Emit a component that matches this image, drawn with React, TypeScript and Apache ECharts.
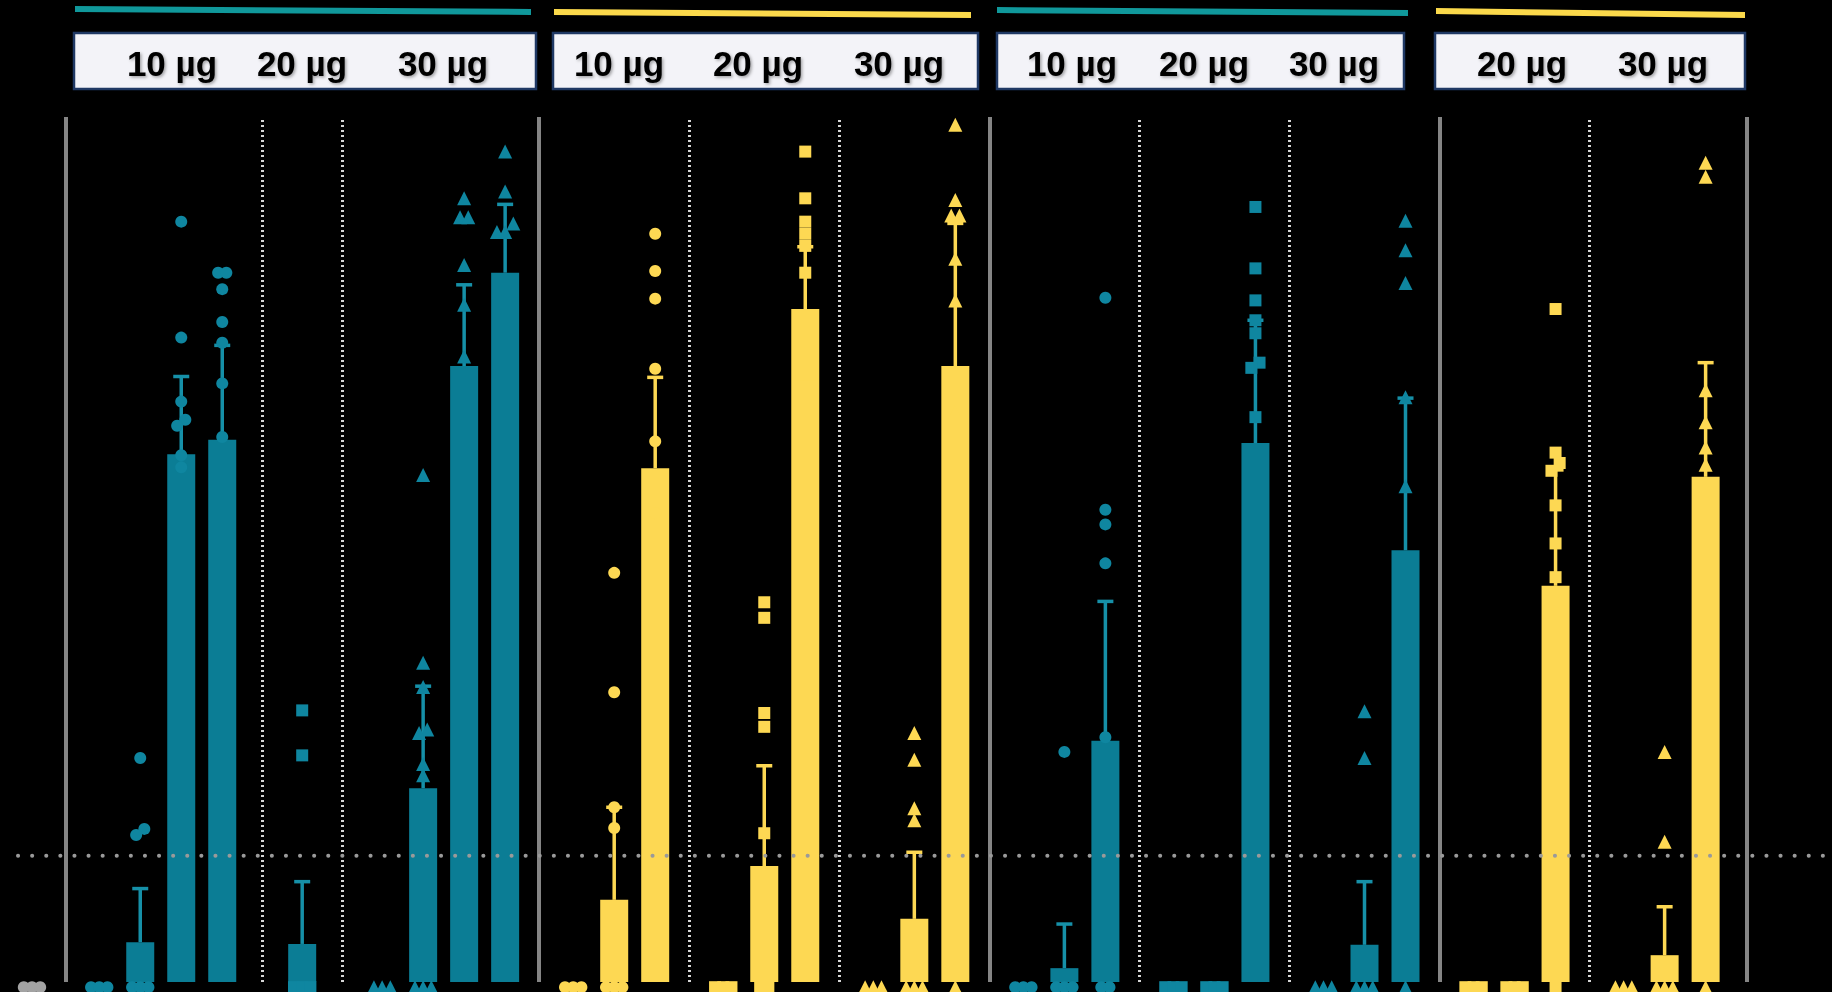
import React, { useEffect, useRef } from "react";
import * as echarts from "echarts";

// ---------------- data (axis units 0..100) ----------------
const lodValue = 14.6;
const controlPoints = [0, 0, 0];

const g1Doses = ["10 µg", "20 µg", "30 µg"];
const g1Means = [[0, 4.6, 61.0, 62.7], [4.4], [0, 22.4, 71.2, 82.0]];
const g1ErrTop = [[null, 10.8, 70.0, 73.6], [11.6], [null, 34.2, 80.6, 89.9]];
const g1Points = [
  [[0, 0, 0], [25.9, 17.7, 17.0, 0, 0, 0], [87.9, 74.5, 67.1, 65.0, 64.3, 60.9, 59.5], [82.0, 82.0, 80.1, 76.3, 73.9, 69.2, 63.0]],
  [[31.4, 26.2, 0, 0, 0]],
  [[0, 0, 0], [58.6, 36.9, 34.1, 29.2, 28.8, 25.2, 23.9, 0, 0, 0], [90.6, 88.4, 88.4, 82.9, 78.3, 72.3], [96.0, 91.4, 87.7, 86.7, 86.7]],
];

const g2Doses = ["10 µg", "20 µg", "30 µg"];
const g2Means = [[0, 9.5, 59.4], [0, 13.4, 77.8], [0, 7.3, 71.2]];
const g2ErrTop = [[null, 20.2, 69.9], [null, 25.0, 85.0], [null, 15.0, 87.7]];
const g2Points = [
  [[0, 0, 0], [47.3, 33.5, 20.2, 17.8, 0, 0, 0], [86.5, 82.2, 79.0, 70.9, 62.5, 54.2]],
  [[0, 0, 0], [43.9, 42.1, 31.1, 29.5, 17.2, 0, 0], [96.0, 90.6, 87.9, 86.5, 85.1, 82.0, 70.2, 70.2]],
  [[0, 0, 0], [28.8, 25.7, 20.1, 18.7, 0, 0, 0], [99.1, 90.4, 88.6, 88.6, 83.6, 78.8, 65.9, 0]],
];

const g3Doses = ["10 µg", "20 µg", "30 µg"];
const g3Means = [[0, 1.6, 27.9], [0, 0, 62.3], [0, 4.3, 49.9]];
const g3ErrTop = [[null, 6.7, 44.0], [null, null, 76.5], [null, 11.6, 67.5]];
const g3Points = [
  [[0, 0, 0], [26.6, 0, 0, 0], [79.1, 54.6, 52.9, 48.4, 28.3, 0, 0]],
  [[0, 0, 0], [0, 0, 0], [89.6, 82.5, 78.8, 76.5, 75.0, 71.6, 71.0, 65.3]],
  [[0, 0, 0], [31.3, 25.9, 0, 0, 0], [88.0, 84.6, 80.8, 67.6, 57.3, 0]],
];

const g4Doses = ["20 µg", "30 µg"];
const g4Means = [[0, 0, 45.8], [0, 3.1, 58.4]];
const g4ErrTop = [[null, null, 59.2], [null, 8.7, 71.6]];
const g4Points = [
  [[0, 0, 0], [0, 0, 0], [77.8, 61.2, 60.0, 59.1, 55.1, 50.7, 46.8, 0]],
  [[0, 0, 0], [26.6, 16.2, 0, 0, 0], [94.7, 93.1, 68.4, 64.7, 61.8, 59.8, 0]],
];

// ---------------- styles & layout ----------------
const TEAL = { bar: "#0b7d95", pt: "#0f86a0", err: "#1690a8", head: "#10989b" };
const YELLOW = { bar: "#fdd853", pt: "#fdd853", err: "#fdd853", head: "#fbd94b" };
const GREY_PT = "#a3a3a3";

const groups = [
  { doses: g1Doses, means: g1Means, err: g1ErrTop, pts: g1Points, col: TEAL },
  { doses: g2Doses, means: g2Means, err: g2ErrTop, pts: g2Points, col: YELLOW },
  { doses: g3Doses, means: g3Means, err: g3ErrTop, pts: g3Points, col: TEAL },
  { doses: g4Doses, means: g4Means, err: g4ErrTop, pts: g4Points, col: YELLOW },
];

const SHAPE: Record<string, string> = { "10 µg": "circle", "20 µg": "rect", "30 µg": "triangle" };
const SIZE: Record<string, number> = { circle: 12, rect: 12, triangle: 14 };

const W = 1832;
const H = 992;
const PX0 = 32; // pixel of slot 0
const PX_STEP = 41; // pixels per slot unit
const GAP = 1.66;
const WIDE_GAP = 1.95;
const ZERO_Y = -0.6;
const JIT = 0.2;

const HEAD_BOX = [[74, 536], [553, 978], [997, 1404], [1435, 1745]];
const HEAD_BAR = [[6, 9], [9, 12], [7, 10], [8, 12]];
const HEAD_BAR_X = [[75, 531], [554, 971], [997, 1408], [1436, 1745]];
const HEAD_TEXT_X = [[172, 302, 443], [619, 758, 899], [1072, 1204, 1334], [1522, 1663]];

function swarm(vals: number[]): number[] {
  const idx = vals.map((_, i) => i).sort((a, b) => vals[a] - vals[b]);
  const off = new Array(vals.length).fill(0);
  let i = 0;
  while (i < idx.length) {
    let j = i + 1;
    while (j < idx.length && vals[idx[j]] - vals[idx[i]] < 1.2) j++;
    const n = j - i;
    for (let k = 0; k < n; k++) off[idx[i + k]] = (k - (n - 1) / 2) * JIT;
    i = j;
  }
  return off;
}

function buildOption() {
  const barData: any[] = [];
  const errData: any[] = [];
  const errColors: string[] = [];
  const scatterData: any[] = [];
  const vLines: any[] = [];

  const cOff = swarm(controlPoints);
  controlPoints.forEach((p, i) =>
    scatterData.push({ value: [cOff[i], p === 0 ? ZERO_Y : p], symbol: "circle", symbolSize: 12, itemStyle: { color: GREY_PT, opacity: 1 } })
  );

  let u = 0;
  let prevLast: number | null = null;
  let prevSingle = false;
  let first = true;
  groups.forEach((g) => {
    g.means.forEach((sub, si) => {
      const single = sub.length === 1;
      const gap = first ? 1.64 : prevSingle || single ? WIDE_GAP : GAP;
      const start = u + gap;
      if (first) {
        vLines.push({ xAxis: start - 0.82, kind: "solid" });
      } else if (prevLast !== null) {
        vLines.push({ xAxis: (prevLast + start) / 2, kind: si === 0 ? "solid" : "dotted" });
      }
      first = false;
      const shape = SHAPE[g.doses[si]];
      sub.forEach((m, bi) => {
        const x = start + bi;
        if (m > 0) barData.push({ value: [x, m], itemStyle: { color: g.col.bar } });
        const top = g.err[si][bi];
        if (top != null) {
          errData.push([x, m, top]);
          errColors.push(g.col.err);
        }
        const pts = g.pts[si][bi];
        const off = swarm(pts);
        pts.forEach((p, k) =>
          scatterData.push({
            value: [x + off[k], p === 0 ? ZERO_Y : p],
            symbol: shape,
            symbolSize: SIZE[shape],
            itemStyle: { color: g.col.pt, opacity: 1 },
          })
        );
      });
      u = start + sub.length - 1;
      prevLast = u;
      prevSingle = single;
    });
  });
  vLines.push({ xAxis: u + 1.0, kind: "solid" });

  const xMin = -PX0 / PX_STEP;
  const xMax = (W - PX0) / PX_STEP;

  const markData = vLines.map((l) => ({
    xAxis: l.xAxis,
    lineStyle:
      l.kind === "solid"
        ? { color: "#858585", width: 4, type: "solid" }
        : { color: "#d6d6d6", width: 3, type: [2, 3] },
  }));

  const graphic: any[] = [];
  groups.forEach((g, gi) => {
    const [bx0, bx1] = HEAD_BAR_X[gi];
    const [yl, yr] = HEAD_BAR[gi];
    graphic.push({
      type: "polygon",
      shape: { points: [[bx0, yl], [bx1, yr], [bx1, yr + 6], [bx0, yl + 6]] },
      style: { fill: g.col.head },
    });
    const [x0, x1] = HEAD_BOX[gi];
    graphic.push({
      type: "rect",
      shape: { x: x0, y: 33, width: x1 - x0, height: 56 },
      style: { fill: "#f3f3f8", stroke: "#1f3864", lineWidth: 2.5 },
    });
    g.doses.forEach((d, di) => {
      graphic.push({
        type: "text",
        x: HEAD_TEXT_X[gi][di],
        y: 63,
        style: {
          text: d,
          fill: "#000",
          fontFamily: "Liberation Sans",
          fontWeight: "bold",
          fontSize: 35,
          align: "center",
          verticalAlign: "middle",
          textAlign: "center",
          textVerticalAlign: "middle",
          textShadowColor: "rgba(0,0,0,0.35)",
          textShadowBlur: 3,
          textShadowOffsetX: 1.5,
          textShadowOffsetY: 1.5,
        },
      });
    });
  });

  return {
    animation: false,
    backgroundColor: "#000",
    grid: { left: 0, right: 0, top: 117, bottom: 10 },
    xAxis: { type: "value", min: xMin, max: xMax, show: false },
    yAxis: { type: "value", min: 0, max: 100, show: false },
    graphic,
    series: [
      {
        type: "bar",
        data: barData,
        barWidth: 28,
        z: 2,
        silent: true,
        markLine: {
          silent: true,
          symbol: ["none", "none"],
          label: { show: false },
          emphasis: { disabled: true },
          data: markData,
        },
      },
      {
        type: "line",
        data: [[(18 - PX0) / PX_STEP, lodValue], [xMax, lodValue]],
        showSymbol: false,
        symbol: "none",
        z: 6,
        silent: true,
        lineStyle: { color: "#9a9a9a", width: 4, type: [0.1, 14], cap: "round" },
      },
      {
        type: "custom",
        z: 3,
        silent: true,
        data: errData,
        encode: { x: 0, y: [1, 2] },
        renderItem: (params: any, api: any) => {
          const x = api.value(0);
          const m = api.value(1);
          const t = api.value(2);
          const p0 = api.coord([x, m]);
          const p1 = api.coord([x, t]);
          const c = errColors[params.dataIndex];
          return {
            type: "group",
            children: [
              { type: "line", shape: { x1: p0[0], y1: p0[1], x2: p1[0], y2: p1[1] }, style: { stroke: c, lineWidth: 3.5 } },
              { type: "line", shape: { x1: p1[0] - 8, y1: p1[1], x2: p1[0] + 8, y2: p1[1] }, style: { stroke: c, lineWidth: 3.5 } },
            ],
          };
        },
      },
      {
        type: "scatter",
        data: scatterData,
        z: 4,
        clip: false,
        silent: true,
        itemStyle: { opacity: 1 },
      },
    ],
  };
}

export default function App() {
  const ref = useRef<HTMLDivElement>(null);
  useEffect(() => {
    document.body.style.margin = "0";
    document.body.style.background = "#000";
    const chart = echarts.init(ref.current!, undefined, { renderer: "svg" });
    chart.setOption(buildOption() as any);
    return () => chart.dispose();
  }, []);
  return <div ref={ref} style={{ width: W, height: H, background: "#000" }} />;
}
